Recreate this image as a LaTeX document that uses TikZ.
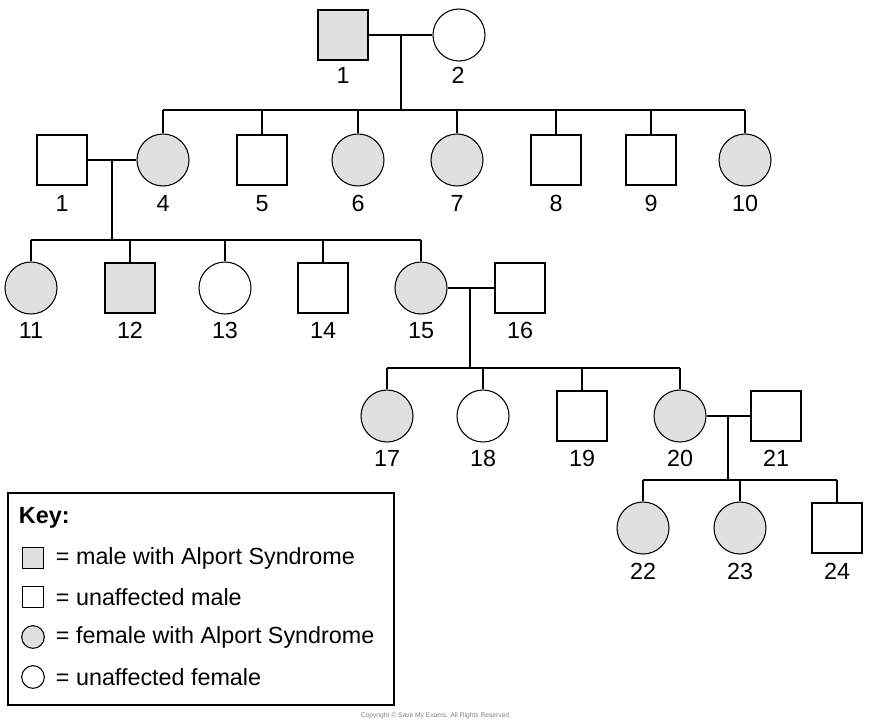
\documentclass[tikz,border=0pt]{standalone}
\usepackage{fontspec}
\setmainfont{Liberation Sans}
\definecolor{affect}{RGB}{224,224,224}
\tikzset{
  male/.style={draw, rectangle, minimum size=37.5pt, inner sep=0pt},
  female/.style={draw, circle, minimum size=39pt, inner sep=0pt},
  hit/.style={fill=affect},
  num/.style={font=\fontsize{17.5}{21}\selectfont},
  lab/.style={num, text height=12.5pt, text depth=0pt},
  keymale/.style={draw, rectangle, minimum size=16pt, inner sep=0pt},
  keyfemale/.style={draw, circle, minimum size=17pt, inner sep=0pt},
}
\begin{document}
\begin{tikzpicture}[x=0.75pt,y=0.75pt,yscale=-1,xscale=1,line width=0.8pt]
\useasboundingbox (0,0) rectangle (870,726);

% generation 1
\node [male,hit] (g1a) at (343,35) {};
\node [female] (g1b) at (459,35) {};
\node [lab] at (343,75) {1};
\node [lab] at (458,75) {2};
\coordinate (m1) at (401,35);
\coordinate (s1) at (401,110);
\draw (g1a) -- (g1b);
\draw (m1) -- (s1);

% generation 2
\node [male] (g2a) at (62,160) {};
\node [female,hit] (g2b) at (163,160) {};
\node [male] (g2c) at (262,160) {};
\node [female,hit] (g2d) at (358,160) {};
\node [female,hit] (g2e) at (457,160) {};
\node [male] (g2f) at (556,160) {};
\node [male] (g2g) at (651,160) {};
\node [female,hit] (g2h) at (745,160) {};
\foreach \x/\t in {62/1,163/4,262/5,358/6,457/7,556/8,651/9,745/10}
  \node [lab] at (\x,203) {\t};
\draw (163,110) -- (745,110);
\foreach \n/\x in {g2b/163,g2c/262,g2d/358,g2e/457,g2f/556,g2g/651,g2h/745}
  \draw (\x,110) -- (\n);
\draw (g2a) -- (g2b);
\draw (112,160) -- (112,240);

% generation 3
\node [female,hit] (g3a) at (31,288) {};
\node [male,hit] (g3b) at (130,288) {};
\node [female] (g3c) at (225,288) {};
\node [male] (g3d) at (323,288) {};
\node [female,hit] (g3e) at (421,288) {};
\node [male] (g3f) at (520,288) {};
\foreach \x/\t in {31/11,130/12,225/13,323/14,421/15,520/16}
  \node [lab] at (\x,330) {\t};
\draw (31,240) -- (421,240);
\foreach \n/\x in {g3a/31,g3b/130,g3c/225,g3d/323,g3e/421}
  \draw (\x,240) -- (\n);
\draw (g3e) -- (g3f);
\draw (470,288) -- (470,368);

% generation 4
\node [female,hit] (g4a) at (387,416) {};
\node [female] (g4b) at (483,416) {};
\node [male] (g4c) at (582,416) {};
\node [female,hit] (g4d) at (680,416) {};
\node [male] (g4e) at (776,416) {};
\foreach \x/\t in {387/17,483/18,582/19,680/20,776/21}
  \node [lab] at (\x,458) {\t};
\draw (387,368) -- (680,368);
\foreach \n/\x in {g4a/387,g4b/483,g4c/582,g4d/680}
  \draw (\x,368) -- (\n);
\draw (g4d) -- (g4e);
\draw (728,416) -- (728,480);

% generation 5
\node [female,hit] (g5a) at (643,528) {};
\node [female,hit] (g5b) at (740,528) {};
\node [male] (g5c) at (837,528) {};
\foreach \x/\t in {643/22,740/23,837/24}
  \node [lab] at (\x,571) {\t};
\draw (643,480) -- (837,480);
\foreach \n/\x in {g5a/643,g5b/740,g5c/837}
  \draw (\x,480) -- (\n);

% key
\draw (8,493) rectangle (394,705);
\node [num,anchor=west,font=\fontsize{17.5}{21}\bfseries] (keyt) at (14,518) {Key:};
\node [keymale,hit] (k1) at (33,558) {};
\node [keymale] (k2) at (33,597) {};
\node [keyfemale,hit] (k3) at (33,637) {};
\node [keyfemale] (k4) at (33,677) {};
\node [num,anchor=west] at (51,558) {= male with Alport Syndrome};
\node [num,anchor=west] at (51,597) {= unaffected male};
\node [num,anchor=west] at (51,637) {= female with Alport Syndrome};
\node [num,anchor=west] at (51,677) {= unaffected female};

\node [font=\fontsize{5}{6}\selectfont, text=gray] at (435,716) {Copyright © Save My Exams. All Rights Reserved};
\end{tikzpicture}
\end{document}
